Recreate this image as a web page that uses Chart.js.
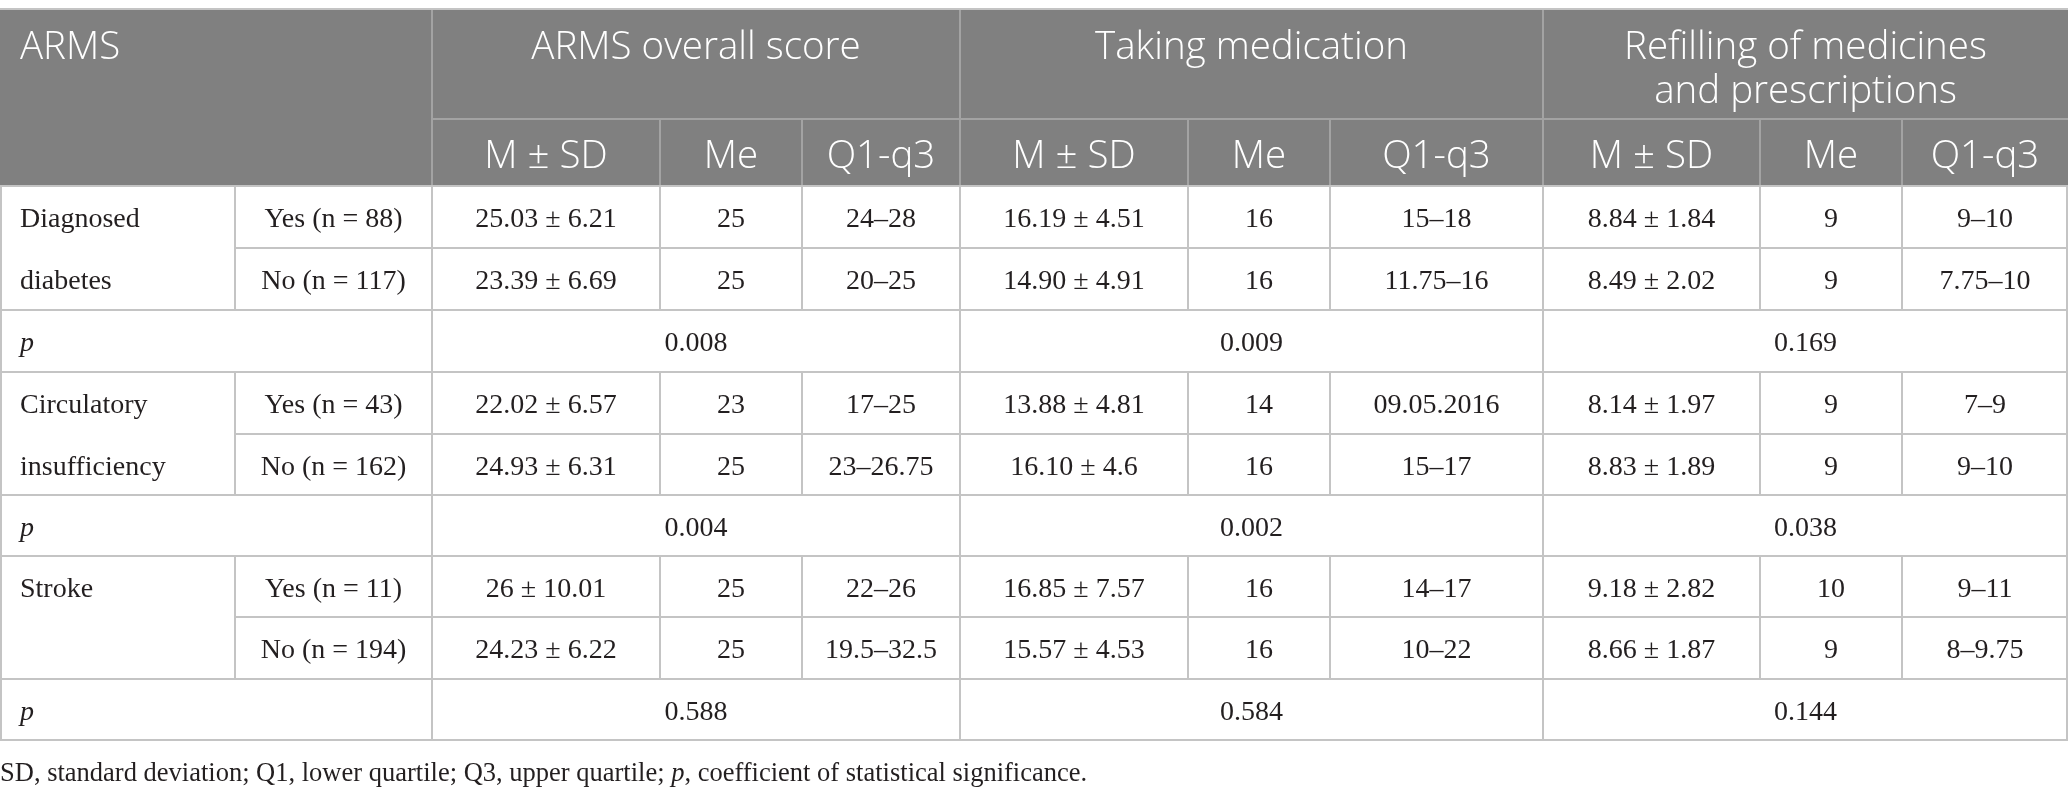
<!DOCTYPE html>
<html>
<head>
<meta charset="utf-8">
<script src="https://cdn.jsdelivr.net/npm/chart.js@4"></script>
<style>
  html, body { margin: 0; padding: 0; background: #fff; }
  #wrap { width: 2068px; height: 796px; }
</style>
</head>
<body>
<div id="wrap"><canvas id="tableChart"></canvas></div>
<script>
// table content
const groupTitles = [['ARMS overall score'], ['Taking medication'], ['Refilling of medicines', 'and prescriptions']];
const subTitles = ['M ± SD', 'Me', 'Q1-q3'];
const factorLabels = [['Diagnosed', 'diabetes'], ['Circulatory', 'insufficiency'], ['Stroke']];
const answerLabels = ['Yes (n = 88)', 'No (n = 117)', 'Yes (n = 43)', 'No (n = 162)', 'Yes (n = 11)', 'No (n = 194)'];
const overallScore = [
  ['25.03 ± 6.21', '25', '24–28'],
  ['23.39 ± 6.69', '25', '20–25'],
  ['22.02 ± 6.57', '23', '17–25'],
  ['24.93 ± 6.31', '25', '23–26.75'],
  ['26 ± 10.01', '25', '22–26'],
  ['24.23 ± 6.22', '25', '19.5–32.5']
];
const takingMedication = [
  ['16.19 ± 4.51', '16', '15–18'],
  ['14.90 ± 4.91', '16', '11.75–16'],
  ['13.88 ± 4.81', '14', '09.05.2016'],
  ['16.10 ± 4.6', '16', '15–17'],
  ['16.85 ± 7.57', '16', '14–17'],
  ['15.57 ± 4.53', '16', '10–22']
];
const refilling = [
  ['8.84 ± 1.84', '9', '9–10'],
  ['8.49 ± 2.02', '9', '7.75–10'],
  ['8.14 ± 1.97', '9', '7–9'],
  ['8.83 ± 1.89', '9', '9–10'],
  ['9.18 ± 2.82', '10', '9–11'],
  ['8.66 ± 1.87', '9', '8–9.75']
];
const pOverall = ['0.008', '0.004', '0.588'];
const pTaking = ['0.009', '0.002', '0.584'];
const pRefilling = ['0.169', '0.038', '0.144'];
const footnote = [['SD, standard deviation; Q1, lower quartile; Q3, upper quartile; ', false], ['p', true], [', coefficient of statistical significance.', false]];

// layout (chart units = pixels of the 2068x796 page)
const colEdges = [0, 235, 432, 660, 802, 960, 1188, 1330, 1543, 1760, 1902, 2068];
const headTop = 10, headMid = 119, headBottom = 186;
const rowEdges = [186, 248, 310, 372, 434, 495, 556, 617, 679, 740];
const footY = 774;

const HEAD_BG = '#808080';
const HEAD_LINE = '#a3a3a3';
const GRID = '#c4c4c4';
const TEXT = '#231f20';
const HEAD_FONT = '300 38.5px "Open Sans"';
const BODY_FONT = '28px "Liberation Serif"';
const BODY_ITALIC = 'italic 28px "Liberation Serif"';
const FOOT_FONT = '26.5px "Liberation Serif"';
const FOOT_ITALIC = 'italic 26.5px "Liberation Serif"';

const tablePlugin = {
  id: 'tablePlugin',
  afterDraw(chart) {
    const ctx = chart.ctx;
    const xs = chart.scales.x, ys = chart.scales.y;
    const X = v => xs.getPixelForValue(v);
    const Y = v => ys.getPixelForValue(v);
    const hline = (x0, x1, y, color, w) => {
      ctx.strokeStyle = color; ctx.lineWidth = w;
      ctx.beginPath(); ctx.moveTo(X(x0), Y(y)); ctx.lineTo(X(x1), Y(y)); ctx.stroke();
    };
    const vline = (x, y0, y1, color, w) => {
      ctx.strokeStyle = color; ctx.lineWidth = w;
      ctx.beginPath(); ctx.moveTo(X(x), Y(y0)); ctx.lineTo(X(x), Y(y1)); ctx.stroke();
    };
    const text = (s, x, y, align, font, color) => {
      ctx.font = font; ctx.fillStyle = color; ctx.textAlign = align; ctx.textBaseline = 'middle';
      ctx.fillText(s, X(x), Y(y));
    };
    const mid = (a, b) => (a + b) / 2;
    const dy = 3; // serif text sits a little low in its cells
    ctx.save();

    // header block
    ctx.fillStyle = HEAD_BG;
    ctx.fillRect(X(0), Y(headTop), X(2068) - X(0), Y(headBottom) - Y(headTop));
    hline(0, 2068, headTop - 1, GRID, 2);
    hline(colEdges[2], 2068, headMid, HEAD_LINE, 2);
    [2, 5, 8].forEach(i => vline(colEdges[i], headTop, headBottom, HEAD_LINE, 2));
    [3, 4, 6, 7, 9, 10].forEach(i => vline(colEdges[i], headMid, headBottom, HEAD_LINE, 2));

    text('ARMS', 20, 48, 'left', HEAD_FONT, '#fff');
    groupTitles.forEach((lines, g) => {
      const cx = mid(colEdges[2 + g * 3], colEdges[5 + g * 3]);
      lines.forEach((s, k) => text(s, cx, 48 + k * 44, 'center', HEAD_FONT, '#fff'));
      subTitles.forEach((s, k) => {
        const c = 2 + g * 3 + k;
        text(s, mid(colEdges[c], colEdges[c + 1]), 157, 'center', HEAD_FONT, '#fff');
      });
    });

    // body grid
    const last = rowEdges.length - 1;
    rowEdges.forEach((y, r) => {
      const inner = r % 3 === 1; // line between Yes and No rows
      hline(inner ? colEdges[1] : 0, 2068, y, GRID, 2);
    });
    vline(1, rowEdges[0], rowEdges[last], GRID, 2);
    vline(2067, rowEdges[0], rowEdges[last], GRID, 2);
    [2, 5, 8].forEach(i => vline(colEdges[i], rowEdges[0], rowEdges[last], GRID, 2));
    for (let f = 0; f < 3; f++) {
      const y0 = rowEdges[f * 3], y1 = rowEdges[f * 3 + 2];
      [1, 3, 4, 6, 7, 9, 10].forEach(i => vline(colEdges[i], y0, y1, GRID, 2));
    }

    // body text
    const blocks = [overallScore, takingMedication, refilling];
    const pBlocks = [pOverall, pTaking, pRefilling];
    for (let f = 0; f < 3; f++) {
      const rYes = f * 3;
      factorLabels[f].forEach((s, k) =>
        text(s, 20, mid(rowEdges[rYes + k], rowEdges[rYes + k + 1]) + dy, 'left', BODY_FONT, TEXT));
      for (let a = 0; a < 2; a++) {
        const r = rYes + a;
        const cy = mid(rowEdges[r], rowEdges[r + 1]) + dy;
        text(answerLabels[f * 2 + a], mid(colEdges[1], colEdges[2]), cy, 'center', BODY_FONT, TEXT);
        blocks.forEach((blk, g) => {
          blk[f * 2 + a].forEach((s, k) => {
            const c = 2 + g * 3 + k;
            text(s, mid(colEdges[c], colEdges[c + 1]), cy, 'center', BODY_FONT, TEXT);
          });
        });
      }
      const rp = rYes + 2;
      const py = mid(rowEdges[rp], rowEdges[rp + 1]) + dy;
      text('p', 20, py, 'left', BODY_ITALIC, TEXT);
      pBlocks.forEach((blk, g) =>
        text(blk[f], mid(colEdges[2 + g * 3], colEdges[5 + g * 3]), py, 'center', BODY_FONT, TEXT));
    }

    // footnote
    let fx = X(0);
    footnote.forEach(([s, it]) => {
      ctx.font = it ? FOOT_ITALIC : FOOT_FONT;
      ctx.fillStyle = TEXT; ctx.textAlign = 'left'; ctx.textBaseline = 'middle';
      ctx.fillText(s, fx, Y(footY));
      fx += ctx.measureText(s).width;
    });
    ctx.restore();
  }
};

new Chart(document.getElementById('tableChart'), {
  type: 'scatter',
  data: { datasets: [] },
  options: {
    responsive: true,
    maintainAspectRatio: false,
    animation: false,
    devicePixelRatio: 1,
    layout: { padding: 0 },
    plugins: { legend: { display: false }, tooltip: { enabled: false } },
    scales: {
      x: { type: 'linear', min: 0, max: 2068, display: false },
      y: { type: 'linear', min: 0, max: 796, reverse: true, display: false }
    }
  },
  plugins: [tablePlugin]
});
</script>
</body>
</html>
